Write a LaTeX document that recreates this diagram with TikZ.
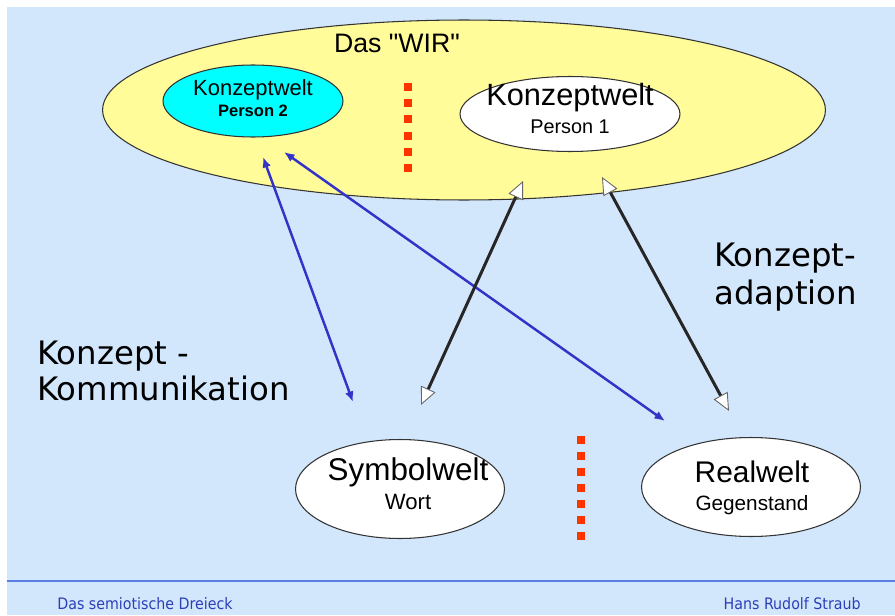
\documentclass[tikz,border=0pt]{standalone}
\usepackage{fontspec}
\setmainfont{Liberation Sans}
\newfontfamily\wirfont[Ligatures=TeXOff]{Liberation Sans}
\newfontfamily\verd{DejaVu Sans}
\newfontfamily\tah{DejaVu Sans Condensed}
\usetikzlibrary{shapes.geometric,arrows.meta}
\definecolor{bgblue}{HTML}{D3E7FC}
\definecolor{wiryellow}{HTML}{FFFC99}
\definecolor{cyanfill}{HTML}{00FFFF}
\definecolor{arrblue}{HTML}{3333C8}
\definecolor{redsq}{HTML}{FF3300}
\definecolor{footline}{HTML}{5A7EE6}
\definecolor{foottext}{HTML}{2B3FB8}
\tikzset{
  world/.style={ellipse, draw=black!80, line width=0.6pt, inner sep=0pt},
  bluearr/.style={draw=arrblue, line width=1.4pt, {Latex[length=6pt,width=5pt]}-{Latex[length=6pt,width=5pt]}},
  blackarr/.style={draw=black!85, line width=1.7pt,
     {Triangle[fill=white, color=black!60, line width=0.5pt, length=10pt, width=9pt]}-{Triangle[fill=white, color=black!60, line width=0.5pt, length=10pt, width=9pt]}},
  reddots/.style={draw=redsq, line width=0.16cm},
  biglabel/.style={font=\verd\fontsize{18.4}{22}\selectfont, anchor=base west, inner sep=0pt},
  foot/.style={font=\tah\fontsize{9}{10}\selectfont, text=foottext, inner sep=0pt, anchor=base west}
}
\begin{document}
\begin{tikzpicture}[x=0.02cm,y=-0.02cm]
\useasboundingbox (0,0) rectangle (895,615);
\fill[white] (0,0) rectangle (895,615);
\fill[bgblue] (7,7) rectangle (895,615);
% footer
\draw[footline, line width=1pt] (7,581) -- (895,581);
\node[foot] (ft1) at (57,609) {Das semiotische Dreieck};
\node[foot, anchor=base east] (ft2) at (861,609) {Hans Rudolf Straub};
% WIR ellipse
\node[world, fill=wiryellow, minimum width=14.46cm, minimum height=3.6cm] (wir) at (464,110) {};
\node[font=\wirfont\fontsize{15.2}{18}\selectfont, anchor=base] (wirt) at (397,53) {Das "WIR"};
% Person 2
\node[world, fill=cyanfill, minimum width=3.6cm, minimum height=1.44cm] (p2) at (253,101) {};
\node[font=\fontsize{12.5}{14}\selectfont, anchor=base] (p2a) at (253,95) {Konzeptwelt};
\node[font=\bfseries\fontsize{9.4}{11}\selectfont, anchor=base] (p2b) at (253,116) {Person 2};
% Person 1
\node[world, fill=white, minimum width=4.4cm, minimum height=1.5cm] (p1) at (570,114) {};
\node[font=\fontsize{17.5}{20}\selectfont, anchor=base] (p1a) at (570,106) {Konzeptwelt};
\node[font=\fontsize{11.3}{13}\selectfont, anchor=base] (p1b) at (570,133) {Person 1};
% Symbolwelt
\node[world, fill=white, minimum width=4.18cm, minimum height=1.98cm] (sym) at (400,489) {};
\node[font=\fontsize{17.9}{20}\selectfont, anchor=base] (syma) at (408,480) {Symbolwelt};
\node[font=\fontsize{12.6}{14}\selectfont, anchor=base] (symb) at (408,509) {Wort};
% Realwelt
\node[world, fill=white, minimum width=4.38cm, minimum height=1.98cm] (real) at (751,487) {};
\node[font=\fontsize{17}{20}\selectfont, anchor=base] (reala) at (752,482) {Realwelt};
\node[font=\fontsize{11.8}{14}\selectfont, anchor=base] (realb) at (752,510) {Gegenstand};
% red dotted lines
\coordinate (r1a) at (408,83);
\coordinate (r1b) at (408,172);
\draw[reddots, dash pattern=on 0.16cm off 0.164cm] (r1a) -- (r1b);
\coordinate (r2a) at (581,436);
\coordinate (r2b) at (581,541);
\draw[reddots, dash pattern=on 0.16cm off 0.16cm] (r2a) -- (r2b);
% labels
\node[biglabel] (kk1) at (37,364) {Konzept -};
\node[biglabel] (kk2) at (37,400) {Kommunikation};
\node[biglabel] (ka1) at (714,266) {Konzept-};
\node[biglabel] (ka2) at (714,304) {adaption};
% connectors
\coordinate (b1s) at (263,157);
\coordinate (b1e) at (353,402);
\coordinate (b2s) at (284,152);
\coordinate (b2e) at (665,421);
\coordinate (k1s) at (421,405);
\coordinate (k1e) at (523,181);
\coordinate (k2s) at (602,177);
\coordinate (k2e) at (729,411);
\draw[bluearr] (b1s) -- (b1e);
\draw[bluearr] (b2s) -- (b2e);
\draw[blackarr] (k1s) -- (k1e);
\draw[blackarr] (k2s) -- (k2e);
\end{tikzpicture}
\end{document}
